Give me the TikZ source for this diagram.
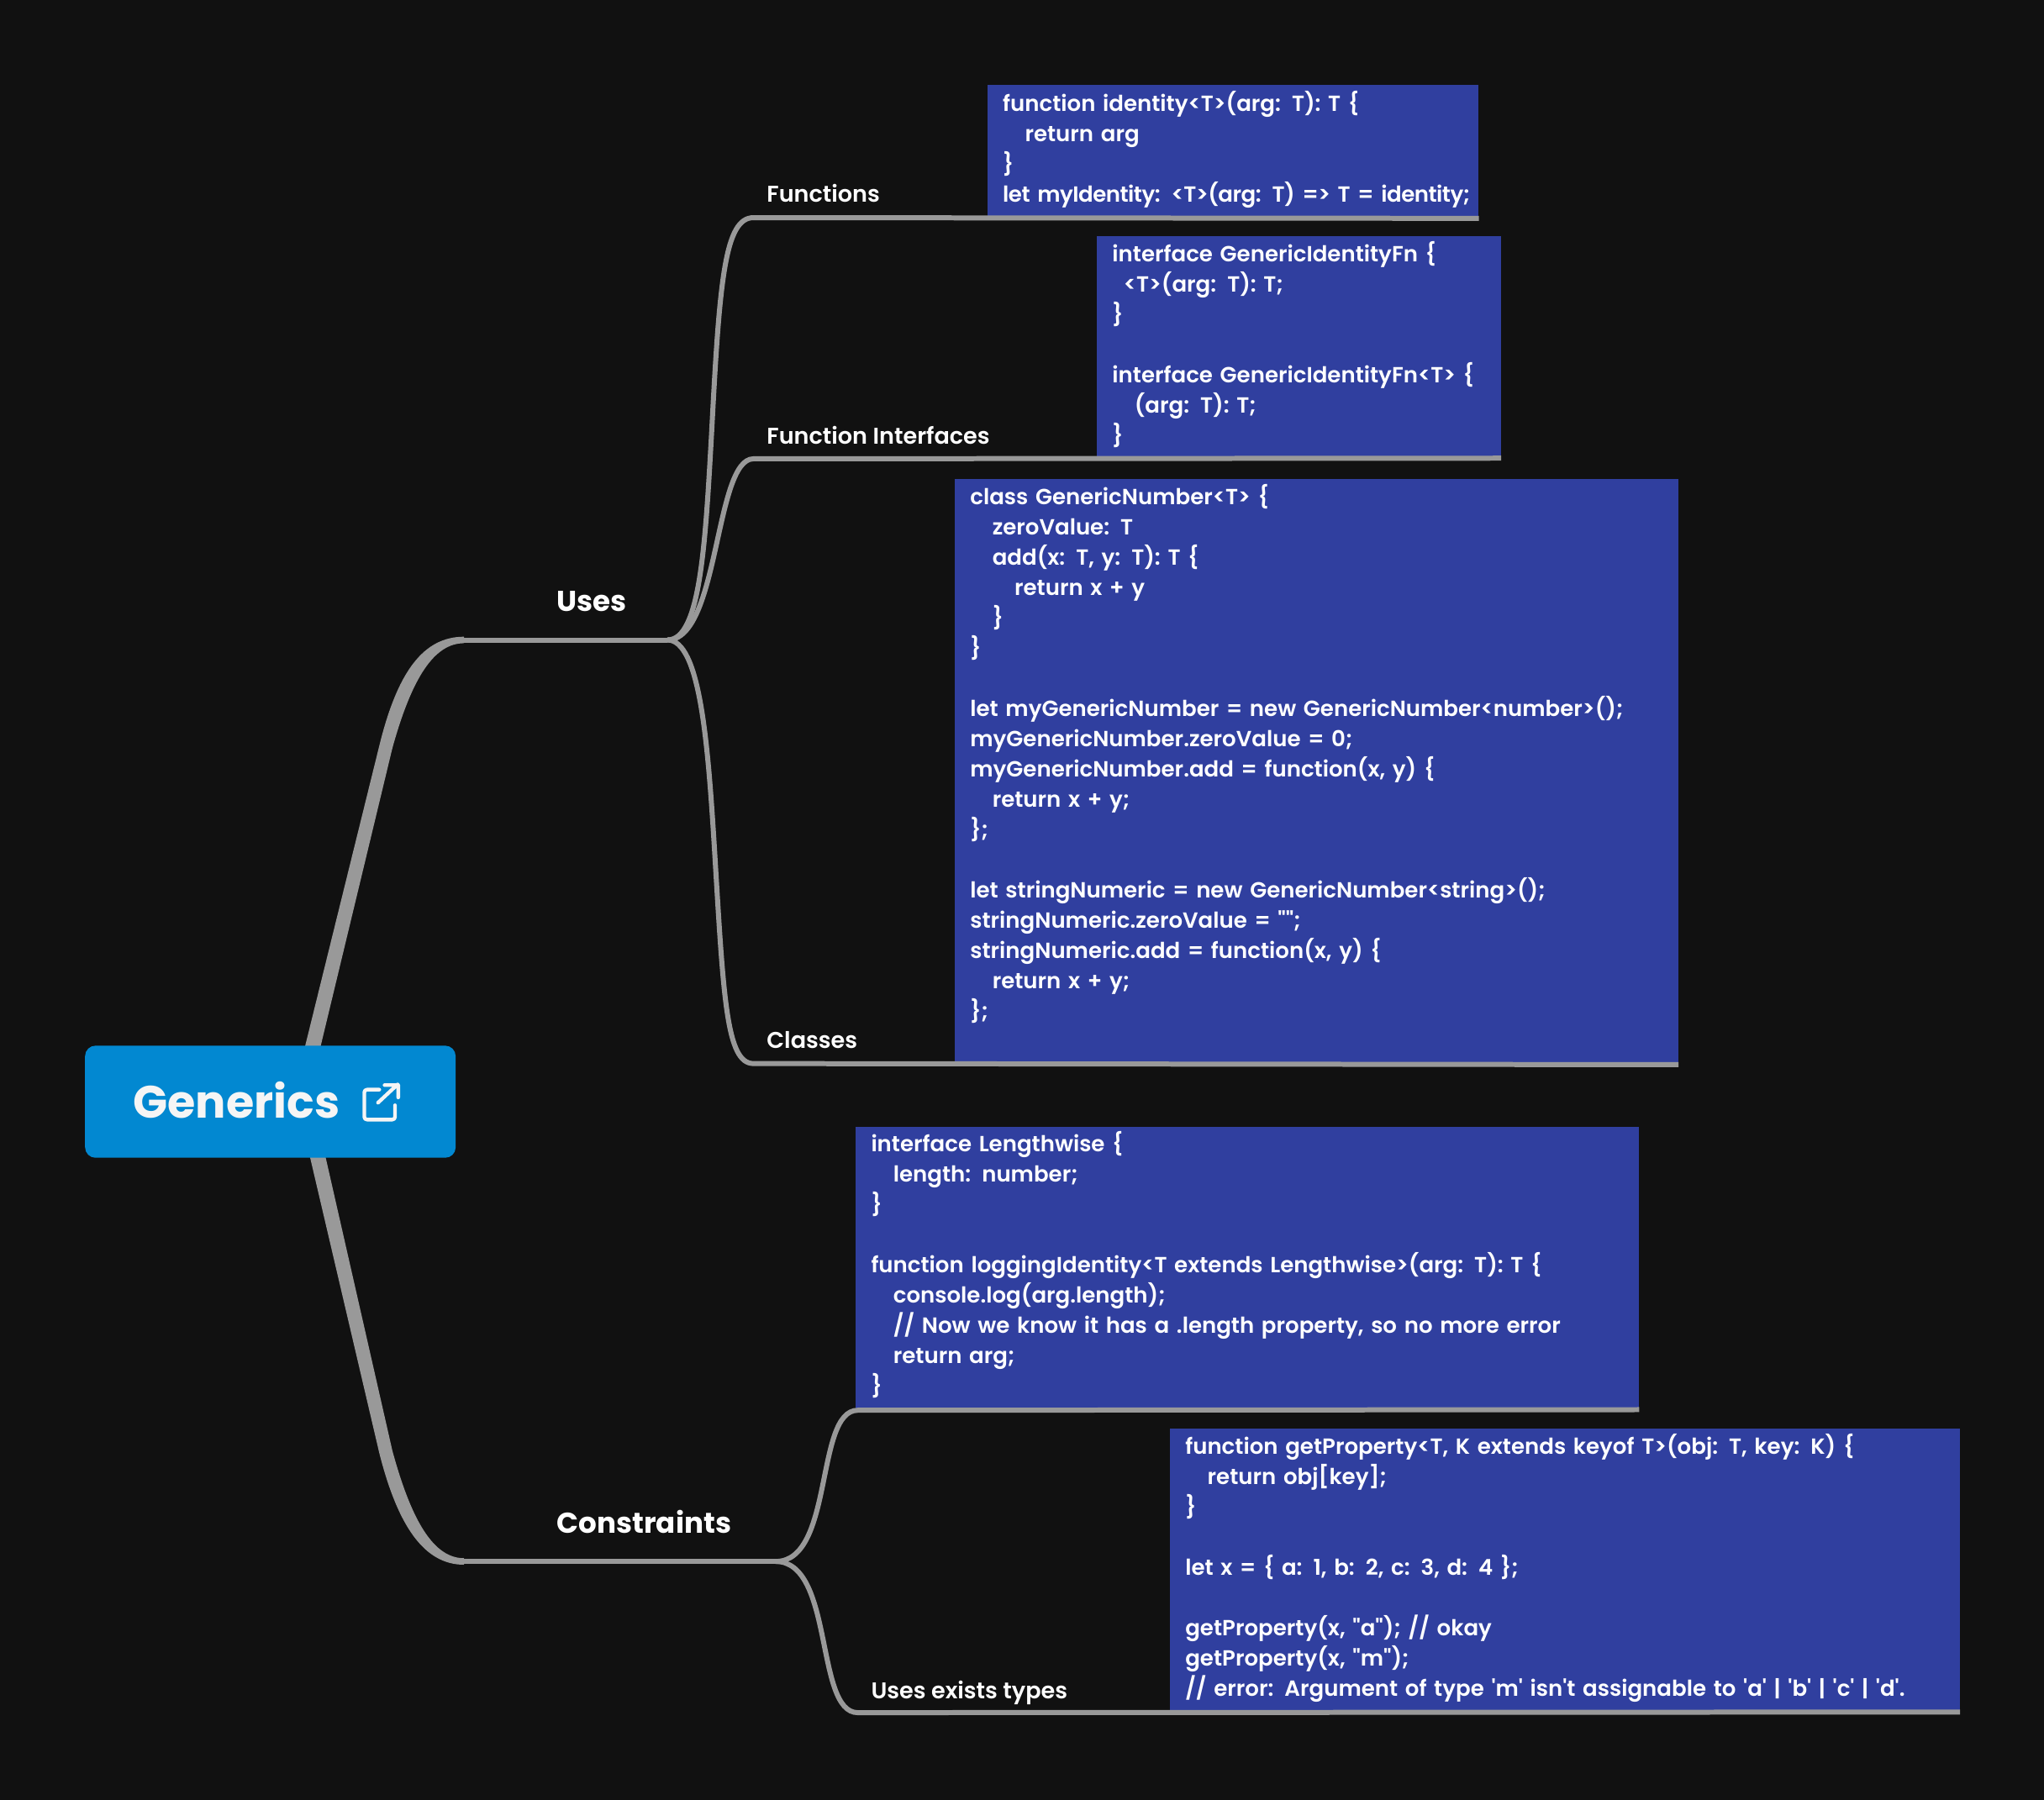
\documentclass[tikz,border=0pt]{standalone}
\usepackage{fontspec}
\newfontfamily\codefont[WordSpace=0.8]{Poppins SemiBold}
\newfontfamily\labfont{Poppins SemiBold}
\newfontfamily\boldfont{Poppins Bold}
\definecolor{bgc}{HTML}{111111}
\definecolor{linec}{HTML}{999999}
\definecolor{boxc}{HTML}{303F9F}
\definecolor{rootc}{HTML}{0288D1}
\newcommand{\ind}{\hspace*{12.75pt}}
\newcommand{\indh}{\hspace*{6.5pt}}
\newcommand{\tb}{\rule{0pt}{11pt}}
\newcommand{\eb}{\rule[-5.8pt]{0pt}{5.8pt}}
\tikzset{
  codebox/.style={anchor=north west,fill=boxc,text=white,align=left,inner xsep=9pt,inner ysep=0pt,
    font=\codefont\fontsize{12.6}{17.4}\selectfont},
  lab/.style={anchor=base west,text=white,inner sep=0pt,font=\labfont\fontsize{13.1}{14}\selectfont},
  mainlab/.style={anchor=base west,text=white,inner sep=0pt,font=\boldfont\fontsize{16.5}{18}\selectfont},
  sub/.style={draw=linec,line width=2.9pt}
}
\begin{document}
\begin{tikzpicture}[x=0.75pt,y=-0.75pt]
\fill[bgc] (0,0) rectangle (1568,1381);
\useasboundingbox (0,0) rectangle (1568,1381);
% code boxes
\node[codebox,text width=264.75pt,minimum height=76.5pt] (b1) at (757,65) {\tb function identity<T>(arg: T): T \{\\\ind return arg\\\}\\\mbox{\addfontfeature{LetterSpace=-1.9}let myIdentity: <T>(arg: T) => T = identity;}\eb};
\node[codebox,text width=214.5pt,minimum height=127.5pt] (b2) at (841,181) {\tb interface GenericIdentityFn \{\\\indh<T>(arg: T): T;\\\}\\\mbox{}\\interface GenericIdentityFn<T> \{\\\ind(arg: T): T;\\\}\eb};
\node[codebox,text width=398.25pt,minimum height=337pt] (b3) at (732,367) {\tb class GenericNumber<T> \{\\\ind zeroValue: T\\\ind add(x: T, y: T): T \{\\\ind\ind return x + y\\\ind\}\\\}\\\mbox{}\\let myGenericNumber = new GenericNumber<number>();\\myGenericNumber.zeroValue = 0;\\myGenericNumber.add = function(x, y) \{\\\ind return x + y;\\\};\\\mbox{}\\let stringNumeric = new GenericNumber<string>();\\stringNumeric.zeroValue = "";\\stringNumeric.add = function(x, y) \{\\\ind return x + y;\\\};\\\mbox{}\eb};
\node[codebox,text width=432.75pt,minimum height=162.75pt] (b4) at (656,864) {\tb interface Lengthwise \{\\\ind length: number;\\\}\\\mbox{}\\function loggingIdentity<T extends Lengthwise>(arg: T): T \{\\\ind console.log(arg.length);\\\ind // Now we know it has a .length property, so no more error\\\ind return arg;\\\}\eb};
\node[codebox,text width=436.5pt,minimum height=162.75pt] (b5) at (897,1096) {\tb function getProperty<T, K extends keyof T>(obj: T, key: K) \{\\\ind return obj[key];\\\}\\\mbox{}\\let x = \{ a: 1, b: 2, c: 3, d: 4 \};\\\mbox{}\\getProperty(x, "a"); // okay\\getProperty(x, "m");\\\mbox{// error: Argument of type 'm' isn't assignable to 'a' | 'b' | 'c' | 'd'.}\eb};
% labels
\node[mainlab] (uses) at (427,469) {Uses};
\node[mainlab] (con) at (427,1176) {Constraints};
\node[lab] (lf) at (588,155) {Functions};
\node[lab] (li) at (588,341) {Function Interfaces};
\node[lab] (lc) at (588,804) {Classes};
\node[lab] (lu) at (668,1303) {Uses exists types};
% junctions
\coordinate (ju) at (512,491);
\coordinate (jc) at (595,1198);
\coordinate (tu) at (355,491);
\coordinate (tc) at (355,1198);
% tapered main branches
\fill[linec] (231,815) -- (291,572) .. controls (305,515) and (325,488.5) .. (356,488.5) -- (356,493.5)
  .. controls (333,493.5) and (316,520) .. (301,574) -- (243,815) -- cycle;
\fill[linec] (236,880) -- (291,1115) .. controls (305,1170) and (325,1200.5) .. (356,1200.5) -- (356,1195.5)
  .. controls (333,1195.5) and (316,1168) .. (301,1113) -- (248,880) -- cycle;
\draw[sub] (tu) -- (ju);
\draw[sub] (tc) -- (jc);
% sub branches
\draw[sub] (ju) .. controls (537,491) and (541,420) .. (546,330) .. controls (552,215) and (556,167) .. (578,167) -- (b1.south east);
\draw[sub] (ju) .. controls (552,491) and (548,352) .. (578,352) -- (b2.south east);
\draw[sub] (ju) .. controls (537,491) and (543,570) .. (548,650) .. controls (555,765) and (557,816) .. (578,816) -- (b3.south east);
\draw[sub] (jc) .. controls (640,1198) and (625,1082) .. (658,1082) -- (b4.south east);
\draw[sub] (jc) .. controls (640,1198) and (625,1314) .. (658,1314) -- (b5.south east);
% root
\node[fill=rootc,rounded corners=6pt,minimum width=213.2pt,minimum height=64.5pt,inner sep=0pt,anchor=north west] (root) at (65,802) {};
\node[anchor=base west,text=white!96!black,inner sep=0pt,font=\boldfont\fontsize{26.1}{30}\selectfont] (rootlab) at (102,858) {Generics};
\draw[white!96!black,line width=2.1pt,line cap=round,line join=round,rounded corners=1.5pt]
  (291,836) -- (279.5,836) -- (279.5,859) -- (303,859) -- (303,848);
\draw[white!96!black,line width=2.1pt,line cap=round,line join=round]
  (290,846) -- (305,832) (295,832.5) -- (305.5,832.5) -- (305.5,842);
\end{tikzpicture}
\end{document}
